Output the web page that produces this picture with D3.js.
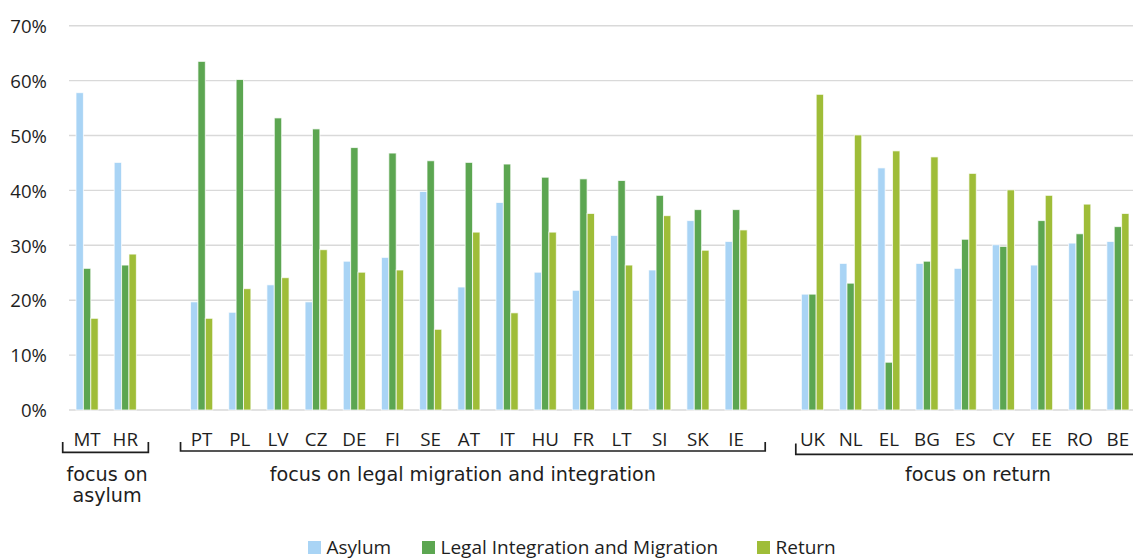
<!DOCTYPE html>
<html>
<head>
<meta charset="utf-8">
<script src="https://cdn.jsdelivr.net/npm/d3@7"></script>
<style>
  html, body { margin: 0; padding: 0; background: #fff; }
  svg { display: block; font-family: "Open Sans", sans-serif; }
</style>
</head>
<body>
<svg id="chart" width="1133" height="559"></svg>
<script>
// ---- data ----
const categories = ["MT","HR","","PT","PL","LV","CZ","DE","FI","SE","AT","IT","HU","FR","LT","SI","SK","IE","","UK","NL","EL","BG","ES","CY","EE","RO","BE"];
const asylum   = [57.8,45.1,null,19.7,17.8,22.8,19.7,27.1,27.8,39.8,22.4,37.8,25.1,21.8,31.8,25.5,34.5,30.7,null,21.1,26.7,44.1,26.7,25.8,30.1,26.4,30.4,30.7];
const legal    = [25.8,26.4,null,63.5,60.2,53.2,51.2,47.8,46.8,45.4,45.1,44.8,42.4,42.1,41.8,39.1,36.5,36.5,null,21.1,23.1,8.7,27.1,31.1,29.8,34.5,32.1,33.4];
const ret      = [16.7,28.4,null,16.7,22.1,24.1,29.2,25.1,25.5,14.7,32.4,17.7,32.4,35.8,26.4,35.4,29.1,32.8,null,57.5,50.1,47.2,46.1,43.1,40.1,39.1,37.5,35.8];
const seriesNames = ["Asylum","Legal Integration and Migration","Return"];
const seriesColors = ["#a9d4f5","#5ca651","#9fbd38"];
const yTicks = [0,10,20,30,40,50,60,70];
const groupFirst = ["MT","PT","UK"];
const groupLast  = ["HR","IE","BE"];
const groupLines = [["focus on","asylum"],["focus on legal migration and integration"],["focus on return"]];

// ---- layout ----
const svg = d3.select("#chart");
const plotL = 68, plotR = 1137, plotT = 25.7, plotB = 410;
const x = d3.scaleBand().domain(d3.range(categories.length)).range([plotL, plotR]);
const y = d3.scaleLinear().domain([0, 70]).range([plotB, plotT]);
const groupPad = 8;
const x1 = d3.scaleBand().domain(d3.range(3)).range([0, x.bandwidth() - 2*groupPad]);
const txt = "#1e1e1e";

// gridlines
svg.append("g").selectAll("line").data(yTicks).join("line")
  .attr("x1", plotL + 1).attr("x2", 1133)
  .attr("y1", d => y(d)).attr("y2", d => y(d))
  .attr("stroke", "#d9d9d9").attr("stroke-width", 1.4);

// y axis labels
const yAxis = d3.axisLeft(y).tickValues(yTicks).tickFormat(d => d + "%").tickSize(0).tickPadding(0);
const ya = svg.append("g").attr("transform", `translate(47,0)`).call(yAxis);
ya.select(".domain").remove();
ya.selectAll("text").attr("font-family", "'Open Sans', sans-serif").attr("font-size", 18.6).attr("fill", txt).attr("dy", "0.36em");

// bars
const series = [asylum, legal, ret];
series.forEach((vals, si) => {
  svg.append("g").selectAll("rect")
    .data(vals.map((v, i) => ({v, i})).filter(d => d.v != null))
    .join("rect")
    .attr("x", d => x(d.i) + groupPad + x1(si))
    .attr("width", x1.bandwidth())
    .attr("y", d => y(d.v))
    .attr("height", d => y(0) - y(d.v))
    .attr("fill", seriesColors[si])
    .attr("stroke", "rgba(255,255,255,0.75)")
    .attr("stroke-width", 1);
});

// category labels
svg.append("g").selectAll("text").data(categories.map((c, i) => ({c, i})).filter(d => d.c))
  .join("text")
  .attr("x", d => x(d.i) + x.bandwidth() / 2)
  .attr("y", 445.5)
  .attr("text-anchor", "middle")
  .attr("font-size", 18.8)
  .attr("fill", txt)
  .text(d => d.c);

// brackets and group labels
const bracketOff = [[-5.3, 4], [-2, 10], [2.4, 10]];
const bracketY = [[442, 452.3], [442, 451], [443.5, 454.3]];
const groupShift = [1.5, -10, 0];
groupFirst.forEach((f, g) => {
  const x0 = x(categories.indexOf(f)) + bracketOff[g][0];
  const xe = x(categories.indexOf(groupLast[g])) + x.bandwidth() + bracketOff[g][1];
  svg.append("path")
    .attr("d", `M${x0},${bracketY[g][0]}V${bracketY[g][1]}H${xe}V${bracketY[g][0]}`)
    .attr("fill", "none").attr("stroke", txt).attr("stroke-width", 1.7);
  const cx = g === 2 ? 978 : (x0 + xe) / 2 + groupShift[g];
  const t = svg.append("text").attr("text-anchor", "middle")
    .attr("font-family", "'DejaVu Sans', sans-serif").attr("font-size", 19.2).attr("fill", txt);
  groupLines[g].forEach((line, li) => {
    t.append("tspan").attr("x", cx).attr("y", 480.5 + li * 21).text(line);
  });
});

// legend
const legendX = [308, 422, 757];
const lg = svg.append("g").selectAll("g").data(seriesNames).join("g")
  .attr("transform", (d, i) => `translate(${legendX[i]},541)`);
lg.append("rect").attr("width", 13).attr("height", 13).attr("fill", (d, i) => seriesColors[i]);
lg.append("text").attr("x", 18.5).attr("y", 13.3).attr("font-size", 19).attr("fill", txt).text(d => d);
</script>
</body>
</html>
